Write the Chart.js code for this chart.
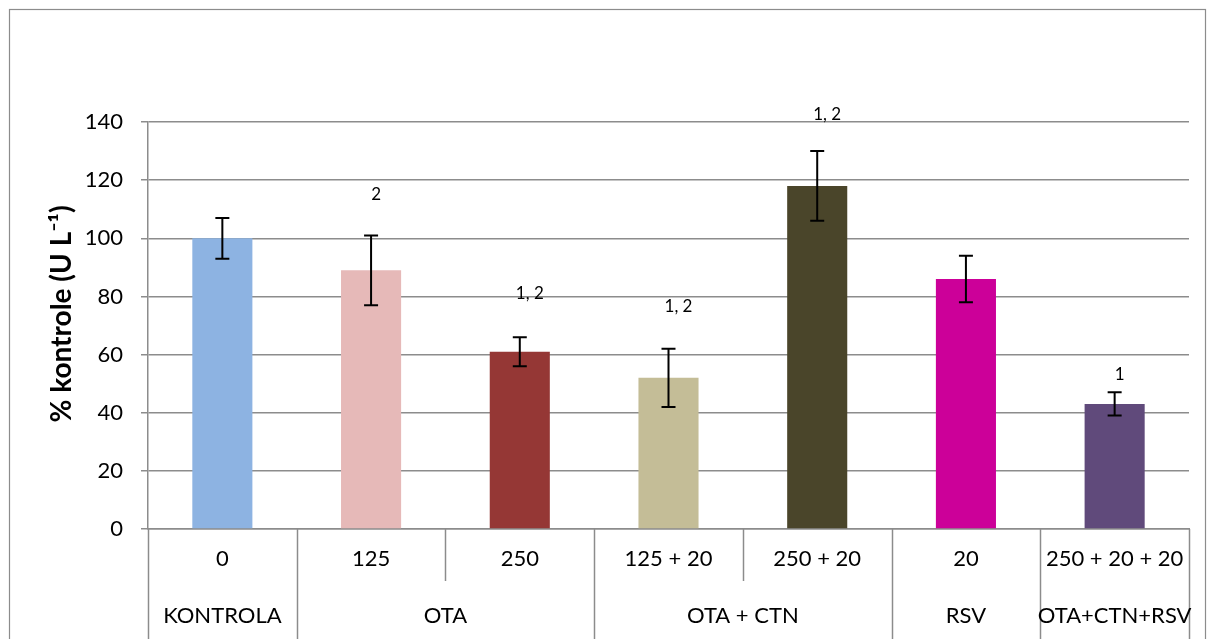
<!DOCTYPE html>
<html>
<head>
<meta charset="utf-8">
<script src="https://cdn.jsdelivr.net/npm/chart.js@4.4.1/dist/chart.umd.min.js"></script>
<style>
  html, body { margin: 0; padding: 0; background: #ffffff; }
  #wrap { width: 1214px; height: 639px; position: relative; }
</style>
</head>
<body>
<div id="wrap"><canvas id="c" width="1214" height="639"></canvas></div>
<script>
// ---- data ----
const doses = ['0', '125', '250', '125 + 20', '250 + 20', '20', '250 + 20 + 20'];
const groups = ['KONTROLA', 'OTA', 'OTA + CTN', 'RSV', 'OTA+CTN+RSV'];
const groupSpans = [1, 2, 2, 1, 1];
const values = [100, 89, 61, 52, 118, 86, 43];
const errors = [7, 12, 5, 10, 12, 8, 4];
const sigTexts = ['', '2', '1, 2', '1, 2', '1, 2', '', '1'];
const sigLevels = [null, 115, 81, 76.5, 142.5, null, 53];
const barColors = ['#8DB3E2', '#E6B9B8', '#953735', '#C4BD97', '#4A452A', '#CC0099', '#604A7B'];
const yTicks = [0, 20, 40, 60, 80, 100, 120, 140];
const yTitle = '% kontrole (U L\u207B\u00B9)';

const FONT = 'Lato, "Liberation Sans", sans-serif';
const GRID = '#8c8c8c';

const overlay = {
  id: 'overlay',
  beforeDraw(chart) {
    const ctx = chart.ctx;
    ctx.save();
    ctx.fillStyle = '#ffffff';
    ctx.fillRect(0, 0, chart.width, chart.height);
    ctx.strokeStyle = GRID;
    ctx.lineWidth = 1.2;
    ctx.strokeRect(9.5, 9.5, 1196, 660);
    ctx.restore();
  },
  afterDatasetsDraw(chart) {
    const ctx = chart.ctx;
    const x = chart.scales.x, y = chart.scales.y;
    const area = chart.chartArea;
    ctx.save();
    // error bars
    ctx.strokeStyle = '#000000';
    ctx.lineWidth = 2;
    values.forEach((v, i) => {
      const cx = x.getPixelForValue(i);
      const top = y.getPixelForValue(v + errors[i]);
      const bot = y.getPixelForValue(v - errors[i]);
      ctx.beginPath();
      ctx.moveTo(cx, top); ctx.lineTo(cx, bot);
      ctx.moveTo(cx - 7, top); ctx.lineTo(cx + 7, top);
      ctx.moveTo(cx - 7, bot); ctx.lineTo(cx + 7, bot);
      ctx.stroke();
    });
    // significance labels
    ctx.fillStyle = '#000000';
    ctx.font = '17px ' + FONT;
    ctx.textAlign = 'center';
    ctx.textBaseline = 'middle';
    sigTexts.forEach((t, i) => {
      if (!t) return;
      const off = t.length > 1 ? 10 : 5;
      ctx.fillText(t, x.getPixelForValue(i) + off, y.getPixelForValue(sigLevels[i]));
    });
    // category dividers and group labels
    const bottom = chart.height;
    const midRow = area.bottom + 52;
    ctx.strokeStyle = GRID;
    ctx.lineWidth = 1.5;
    const boundary = (k) => {
      if (k <= 0) return x.getPixelForValue(0) - (x.getPixelForValue(1) - x.getPixelForValue(0)) / 2;
      if (k >= doses.length) return x.getPixelForValue(doses.length - 1) + (x.getPixelForValue(1) - x.getPixelForValue(0)) / 2;
      return (x.getPixelForValue(k - 1) + x.getPixelForValue(k)) / 2;
    };
    const groupEdges = [0];
    groupSpans.forEach(s => groupEdges.push(groupEdges[groupEdges.length - 1] + s));
    for (let k = 0; k <= doses.length; k++) {
      const bx = Math.round(boundary(k)) + 0.5;
      const full = groupEdges.includes(k);
      ctx.beginPath();
      ctx.moveTo(bx, area.bottom);
      ctx.lineTo(bx, full ? bottom : midRow);
      ctx.stroke();
    }
    ctx.fillStyle = '#000000';
    ctx.font = '22px ' + FONT;
    groups.forEach((g, j) => {
      const l = boundary(groupEdges[j]), r = boundary(groupEdges[j + 1]);
      ctx.fillText(g, (l + r) / 2, area.bottom + 87);
    });
    // y title
    ctx.save();
    ctx.translate(62, 314);
    ctx.rotate(-Math.PI / 2);
    ctx.font = 'bold 28px ' + FONT;
    ctx.fillText(yTitle, 0, 0);
    ctx.restore();
    ctx.restore();
  }
};

new Chart(document.getElementById('c'), {
  type: 'bar',
  data: {
    labels: doses,
    datasets: [{
      data: values,
      backgroundColor: barColors,
      borderWidth: 0,
      categoryPercentage: 1,
      barPercentage: 0.404
    }]
  },
  options: {
    responsive: false,
    animation: false,
    devicePixelRatio: 1,
    layout: { padding: { top: 122, left: 10, right: 25, bottom: 0 } },
    plugins: { legend: { display: false }, tooltip: { enabled: false } },
    scales: {
      x: {
        offset: true,
        grid: { display: false, drawTicks: false },
        border: { display: true, color: GRID, width: 1.5 },
        ticks: { color: '#000000', font: { family: FONT, size: 22 }, padding: 17, maxRotation: 0, autoSkip: false },
        afterFit(s) { s.height = 110; }
      },
      y: {
        min: 0, max: 140,
        afterBuildTicks(s) { s.ticks = yTicks.map(v => ({ value: v })); },
        grid: { color: GRID, lineWidth: 1.5, tickLength: 7, drawTicks: true },
        border: { display: true, color: GRID, width: 1.5 },
        ticks: { color: '#000000', font: { family: FONT, size: 22 }, padding: 18 },
        afterFit(s) { s.width = 138; }
      }
    }
  },
  plugins: [overlay]
});
</script>
</body>
</html>
